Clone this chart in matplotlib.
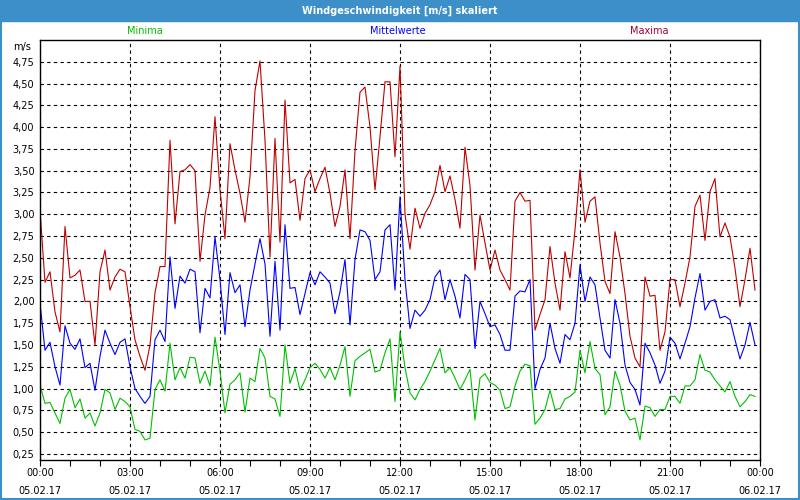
import numpy as np
import matplotlib
matplotlib.use("Agg")
import matplotlib.pyplot as plt
from matplotlib.patches import Rectangle

# Messwerte alle 10 Minuten, 05.02.17 00:00 - 23:50
maxima = [3.05, 2.22, 2.34, 1.88, 1.65, 2.86, 2.27, 2.30, 2.36, 2.00, 2.00, 1.50,
          2.34, 2.59, 2.13, 2.28, 2.37, 2.34, 1.94, 1.56, 1.37, 1.21, 1.50, 2.10,
          2.40, 2.40, 3.85, 2.89, 3.49, 3.51, 3.57, 3.50, 2.46, 2.99, 3.31, 4.12,
          3.28, 2.72, 3.81, 3.51, 3.24, 2.91, 3.43, 4.42, 4.76, 3.85, 2.51, 3.87,
          2.68, 4.31, 3.36, 3.40, 2.93, 3.41, 3.51, 3.26, 3.41, 3.54, 3.24, 2.86,
          3.09, 3.51, 2.72, 3.73, 4.40, 4.46, 4.00, 3.28, 3.89, 4.52, 4.52, 3.66,
          4.70, 3.00, 2.60, 3.07, 2.84, 3.01, 3.11, 3.26, 3.56, 3.26, 3.44, 3.17,
          2.84, 3.77, 3.33, 2.36, 2.99, 2.67, 2.36, 2.59, 2.36, 2.25, 2.13, 3.15,
          3.25, 3.15, 3.16, 1.67, 1.85, 2.02, 2.63, 2.21, 1.90, 2.57, 2.27, 2.82,
          3.51, 2.91, 3.15, 3.20, 2.67, 2.23, 2.09, 2.80, 2.51, 2.09, 1.60, 1.35,
          1.25, 2.28, 2.06, 2.07, 1.44, 1.65, 2.25, 2.25, 1.94, 2.21, 2.51, 3.09,
          3.22, 2.70, 3.26, 3.41, 2.74, 2.90, 2.74, 2.38, 1.94, 2.25, 2.61, 2.13]

mittel = [1.98, 1.44, 1.53, 1.25, 1.04, 1.72, 1.52, 1.45, 1.57, 1.24, 1.29, 0.98,
          1.37, 1.67, 1.52, 1.39, 1.53, 1.57, 1.25, 1.00, 0.91, 0.83, 0.91, 1.56,
          1.67, 1.54, 2.51, 1.92, 2.29, 2.21, 2.37, 2.34, 1.64, 2.15, 2.04, 2.74,
          2.25, 1.62, 2.33, 2.10, 2.19, 1.71, 2.13, 2.43, 2.72, 2.43, 1.60, 2.46,
          1.67, 2.88, 2.15, 2.16, 1.85, 2.09, 2.33, 2.19, 2.34, 2.28, 2.21, 1.86,
          2.11, 2.48, 1.73, 2.48, 2.82, 2.80, 2.70, 2.25, 2.34, 2.82, 2.88, 2.13,
          3.20, 2.25, 1.69, 1.90, 1.83, 1.90, 2.02, 2.28, 2.36, 2.02, 2.25, 2.06,
          1.81, 2.31, 2.25, 1.46, 2.00, 1.86, 1.71, 1.73, 1.62, 1.44, 1.44, 2.06,
          2.12, 2.11, 2.25, 1.00, 1.22, 1.35, 1.75, 1.46, 1.29, 1.62, 1.56, 1.75,
          2.42, 2.00, 2.28, 2.19, 1.81, 1.44, 1.35, 2.02, 1.75, 1.27, 1.07, 0.99,
          0.81, 1.52, 1.41, 1.27, 1.06, 1.20, 1.59, 1.52, 1.34, 1.52, 1.71, 2.04,
          2.32, 1.90, 2.00, 2.02, 1.81, 1.83, 1.79, 1.56, 1.34, 1.50, 1.76, 1.50]

minima = [1.04, 0.83, 0.84, 0.72, 0.60, 0.89, 0.99, 0.78, 0.88, 0.66, 0.72, 0.57,
          0.72, 0.99, 0.95, 0.76, 0.89, 0.85, 0.79, 0.53, 0.51, 0.41, 0.43, 0.99,
          1.10, 0.97, 1.52, 1.10, 1.24, 1.12, 1.36, 1.35, 1.06, 1.20, 1.03, 1.59,
          1.20, 0.72, 1.05, 1.10, 1.18, 0.73, 1.12, 1.08, 1.46, 1.35, 0.91, 0.88,
          0.68, 1.50, 1.06, 1.23, 0.98, 1.10, 1.24, 1.29, 1.22, 1.12, 1.24, 1.10,
          1.27, 1.48, 0.91, 1.32, 1.37, 1.41, 1.45, 1.19, 1.21, 1.41, 1.57, 0.85,
          1.65, 1.24, 0.95, 0.87, 0.99, 1.08, 1.20, 1.33, 1.46, 1.18, 1.24, 1.12,
          0.99, 1.10, 1.22, 0.64, 1.12, 1.17, 1.07, 1.04, 0.98, 0.77, 0.79, 1.03,
          1.20, 1.28, 1.26, 0.59, 0.66, 0.76, 0.98, 0.76, 0.77, 0.88, 0.91, 0.96,
          1.44, 1.18, 1.54, 1.23, 1.16, 0.70, 0.79, 1.20, 1.04, 0.74, 0.64, 0.66,
          0.41, 0.80, 0.78, 0.68, 0.76, 0.76, 0.91, 0.91, 0.83, 1.03, 1.03, 1.10,
          1.39, 1.21, 1.19, 1.10, 1.03, 0.96, 1.08, 0.91, 0.79, 0.85, 0.93, 0.91]

stunden = np.arange(len(maxima)) / 6.0

xtick_pos = [0, 3, 6, 9, 12, 15, 18, 21, 24]
xtick_labels = ["00:00\n05.02.17", "03:00\n05.02.17", "06:00\n05.02.17",
                "09:00\n05.02.17", "12:00\n05.02.17", "15:00\n05.02.17",
                "18:00\n05.02.17", "21:00\n05.02.17", "00:00\n06.02.17"]
ytick_pos = np.arange(0.25, 4.76, 0.25)

rot = "#c00000"
blau = "#0000ff"
gruen = "#00c000"
fenster = "#3c8fc8"

fig = plt.figure(figsize=(8, 5), dpi=100)
fig.patch.set_facecolor("white")

# Titelleiste und Fensterrahmen
fig.patches.append(Rectangle((0, 0.958), 1, 0.042, transform=fig.transFigure,
                             color=fenster, zorder=0))
fig.patches.append(Rectangle((0.0015, 0.003), 0.997, 0.957, transform=fig.transFigure,
                             fill=False, edgecolor=fenster, lw=1.5, zorder=0))
fig.text(0.5, 0.979, "Windgeschwindigkeit [m/s] skaliert", color="white",
         fontsize=7, fontweight="bold", ha="center", va="center")

ax = fig.add_axes([0.05, 0.08, 0.90, 0.84])

ax.plot(stunden, maxima, color=rot, lw=0.8)
ax.plot(stunden, mittel, color=blau, lw=0.8)
ax.plot(stunden, minima, color=gruen, lw=0.8)

ax.set_xlim(0, 24)
ax.set_ylim(0.18, 5.0)

ax.set_xticks(xtick_pos)
ax.set_xticklabels(xtick_labels, fontsize=7, linespacing=1.9)
ax.set_xticks(range(25), minor=True)
ax.set_yticks(ytick_pos)
ax.set_yticklabels([("%.2f" % v).replace(".", ",") for v in ytick_pos], fontsize=7)
ax.tick_params(axis="x", which="both", direction="out", length=4, width=0.8, pad=2)
ax.tick_params(axis="y", length=0, pad=4)

ax.grid(True, which="major", color="black", linestyle=(0, (3, 3)), lw=0.8)
for s in ax.spines.values():
    s.set_linewidth(1.0)

ax.text(-0.012, 0.995, "m/s", transform=ax.transAxes, ha="right", va="top", fontsize=7)

# Legende oberhalb der Zeichenfläche
fig.text(0.181, 0.938, "Minima", color=gruen, fontsize=7, ha="center", va="center")
fig.text(0.497, 0.938, "Mittelwerte", color=blau, fontsize=7, ha="center", va="center")
fig.text(0.812, 0.938, "Maxima", color="#a00030", fontsize=7, ha="center", va="center")

fig.savefig("out.png", dpi=100)
